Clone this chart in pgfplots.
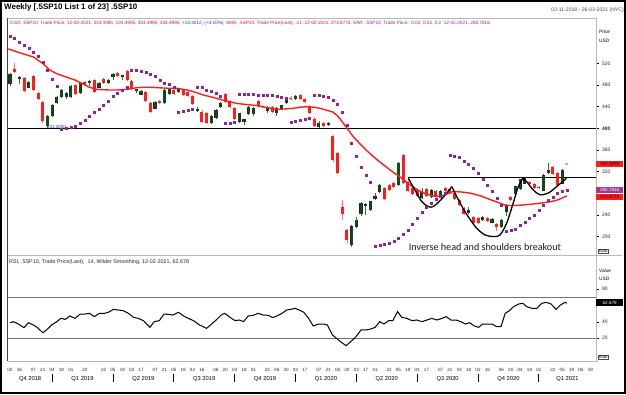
\documentclass[border=0pt]{standalone}
\usepackage{pgfplots}
\pgfplotsset{compat=1.18}
\usepackage{pgfplotstable}
\usepackage{fontspec}
\setmainfont{Liberation Sans}
\newfontfamily\calibri{Carlito}

\definecolor{cRed}{RGB}{255,28,28}
\definecolor{cRedWick}{RGB}{255,110,110}
\definecolor{cGreen}{RGB}{10,80,20}
\definecolor{cGreenWick}{RGB}{70,100,70}
\definecolor{cSar}{RGB}{140,38,140}
\definecolor{cFrame}{RGB}{185,185,185}
\definecolor{cBlue}{RGB}{40,40,230}
\definecolor{cLeg}{RGB}{220,20,40}
\definecolor{cPink}{RGB}{255,140,150}
\definecolor{cPurpleBox}{RGB}{158,58,142}

\pgfplotstableread{
w o h l c
0 482 503 479 500
2 492 496 482 494
4 476 488 474 486
8 405 425 401.4 423
9 423 445 421 443
10 447 460 445 458
11 458 473 456 471
12 458 467 455 465
13 458 480 456 478
15 465 486 463 484
17 484 490 478 488
19 476 486 474 484
21 484 491 482 489
22 495 503 490 500
24 496 499 490 497
27 470 473 466 472
28 463 471 461 469
31 437 451 435 449
33 447 472 445 470
34 464 475 462 472
36 467 474 465 472
40 433 440 430 436
43 410 424 408 422
44 419 435 417 433
45 440 449 438 447
49 412 429 410 427
50 412 418 406 416
51 427 441 425 439
52 427 439 422 437
55 433 441 428 439
57 428 439 423 437
58 437 444 435 442
59 447 454 445 452
61 454 461 452 459
66 403 414 401 409
68 406 411 404 409
73 185 221 181 218
74 218 235 215 230
75 241 263 238 261
76 257 262 240 258
77 249 266 247 264
78 270 280 268 274
79 283 297 281 295
83 295 338 293 336
88 272 290 270 283
90 273 288 271 286
92 275 286 273 284
98 243 255 241 249
101 230 237 228 235
103 226 234 224 232
105 218 232 216 230
106 246 260 238 258
108 278 294 276 292
109 288 307 286 305
110 298 309 296 307
114 285 315 283 313
115 318 336 316 323
118 298 324 296 322
}\upcandles

\pgfplotstableread{
w o h l c
1 510 521 502 504
3 493 495 467 469
5 497 499 469 471
6 465 467 452 455
7 449 451 410 413
14 480 482 461 463
16 486 488 478 480
18 489 491 465 467
20 491 493 482 484
23 502 504 495 497
25 506 508 487 489
26 487 489 470 472
29 467 469 448 450
30 446 448 428 430
32 451 453 445 447
35 470 472 462 464
37 470 472 460 462
38 467 469 458 460
39 460 462 443 445
41 431 433 410 412
42 428 430 408 410
46 463 465 447 449
47 451 453 438 440
48 437 439 415 417
53 451 453 440 442
54 442 444 437 439
56 439 441 429 431
60 457 459 452 454
62 462 464 452 454
63 454 456 446 448
64 441 443 427 429
65 418 420 403 405
67 410 412 403 405
69 386 388 338 341
70 354 356 315 318
71 255 267 230 241
72 212 214 187 193
80 289 291 268 270
81 295 297 284 286
82 298 300 290 292
84 350 352 296 298
85 300 302 282 284
86 290 292 276 278
87 285 287 272 274
89 288 290 273 275
91 283 285 270 272
93 289 291 281 283
94 287 289 278 280
95 281 283 268 270
96 268 270 256 258
97 252 254 239 241
99 235 237 223 225
100 233 235 222 224
102 234 236 227 229
104 223 225 210 217
107 272 274 265 267
111 300 302 294 296
112 296 298 288 290
113 292 294 287 289
116 329 331 313 315
117 317 319 293 295
}\downcandles

\pgfplotstableread{
w s
-0.4 547
2 540
5 532
7 520
8.5 508
10 501
12 495
14 489
15.6 482
17 476
18.6 472
21 471
23 471
25 472
27 475
28.4 476
30 476
32 475
34 474
35.7 474
37.8 471
39.5 467
41.2 462
43.5 457
45.5 452
48.5 446
50.5 444
52.8 442
55 438
57 435
59 436
60.5 437
62 439
63.5 440
65 439
66.2 437
67.5 434
69 430
70 423
71 412
72.2 398
73.3 385
74.8 371
76.3 358
78 345
79.7 333
81.5 321
83.3 310
84.5 302
86 292
87.5 284
89 278
90.5 275
91.9 274
93 277
94.7 283
96.5 282
98.3 280
100.5 275
102.6 268
104.5 262
106 257
108 257
109.6 258
112 260
113.9 262
115.5 264
116.9 267
118 271
119 274.8775
}\smatab

\pgfplotstableread{
w s
0 571
1 566
2 560
3 554
4 548
5 541
6 533
7 522
8 508
9 490
10 478
11 398
12 400
13 402
14 404
15 409
16 415
17 423
18 429
19 436
20 443
21 451
22 459
23 465
24 471
25 477
26 507
27 507
28 505
29 504
30 501
31 496
32 489
33 484
34 481
35 477
36 430
37 431
38 433
39 435
40 477
41 476
42 471
43 468
44 465
45 460
46 409
47 410
48 412
49 463
50 463
51 463
52 463
53 462
54 462
55 462
56 461
57 460
58 458
59 455
60 412
61 413.5
62 415
63 417
64 419
65 462
66 461
67 459
68 457
69 452
70 444
71 430
72 405
73 372
74 348
75 328
76 313
77 300
78 181
79 183
80 185
81 188
82 191
83 196
84 203
85 212
86 222
87 233
88 244
89 254
90 262
91 269
92 275
93 279
94 350.5
95 349
96 346
97 340
98 334
99 326
100 316.6
101 305.5
102 295
103 283
104 270
105 258
106 209
107 212
108 214
109 221
110 227
111 233
112 240
113 249
114 258
115 266
116 273
117 279
118 283
119 285.7816
}\sartab

\pgfplotstableread{
w r
0 38.8
0.7 40.1
1.8 37.2
3 32.7
3.9 38.8
5 36
5.8 33.1
7 26.6
7.8 29.9
8.9 36
10 40.1
10.9 44.1
11.8 42.9
12.8 47
13.9 44.1
15 49.4
16 49.4
17 50.2
18 46.2
19.1 50.2
20.1 50.2
21 51.5
22.1 55.1
23.2 54.3
24.2 53.5
25.3 50.2
26.4 45.4
27.4 44.1
28.5 41.3
29.9 33.1
30.8 40.1
31.9 41.3
32.9 49.4
33.8 49
34.8 48.2
36 51.5
37.1 47
38.1 44.1
39.2 41.3
40.5 36
42 31.9
43.1 37.2
44.2 42.9
45.2 48.6
45.9 50.2
47 45.4
48.1 41.3
49 42.1
49.9 40.1
50.9 47
52 47.8
53 50.2
54.1 48.2
55.2 47.8
56.1 45
57 47
58.1 50.2
59.1 54.3
60 55.1
60.9 56.4
61.8 54.3
62.8 51.5
63.8 44.1
64.8 34.8
65.9 37.2
67 37.2
67.8 36
68.9 23.8
70 18.5
70.9 14.4
71.8 10.7
72.8 15.6
73.8 20.9
75 29.9
76.1 29.9
77.1 31.1
78 33.1
79 40.1
79.9 37.2
80.9 41.3
81.8 41.3
82.8 52.3
83.7 45.4
84.8 44.1
85.9 41.3
86.9 42.1
88 40.1
89.1 42.1
90.1 44.1
91.2 42.1
92.3 44.1
93.2 46.2
94.2 42.1
95.3 42.1
96.3 40.1
97.3 37.2
98.2 38.8
99.2 34.8
100.1 33.1
101 37.2
102 37.2
103 37.2
104 33.9
104.9 33.9
105.8 50.2
106.7 53.5
107.6 58.4
108.7 61.7
109.6 62.5
110.4 58.4
111.5 56.4
112.6 56.4
113.6 62.5
114.6 63.7
115.6 61.7
116.7 55.1
117.6 60.4
118.6 63.7
119 62.678
}\rsitab

\begin{document}
\begin{tikzpicture}[x=1bp,y=1bp]

% ---------------- price panel ----------------
\begin{axis}[
  at={(8bp,139bp)}, anchor=south west,
  scale only axis, width=588bp, height=237bp,
  xmin=-0.427, xmax=125.21, ymin=165.37, ymax=604.26,
  axis x line=none, axis y line*=right,
  axis line style={draw=cFrame, -},
  ytick={200,240,320,360,400,440,480,520},
  yticklabels={200,240,320,360,\textbf{400},440,480,520},
  tick align=outside, major tick length=2.5bp,
  ytick style={black, line width=0.4bp},
  yticklabel style={font=\fontsize{5}{6}\selectfont, text=black!85},
  clip=false,
]
% horizontal levels
\addplot[black, line width=1.5bp, forget plot] coordinates {(-0.427,400) (125.21,400)};
\addplot[black, line width=1.5bp, forget plot] coordinates {(85.1,308.5) (125.21,308.5)};

% wicks
\addplot[draw=none, mark=none, forget plot, error bars/.cd, y dir=both, y explicit, error mark=none,
  error bar style={draw=cGreenWick, line width=0.6bp}]
  table[x=w, y=l, y error plus expr=\thisrow{h}-\thisrow{l}, y error minus expr=0] {\upcandles};
\addplot[draw=none, mark=none, forget plot, error bars/.cd, y dir=both, y explicit, error mark=none,
  error bar style={draw=cRedWick, line width=0.6bp}]
  table[x=w, y=l, y error plus expr=\thisrow{h}-\thisrow{l}, y error minus expr=0] {\downcandles};
% bodies
\addplot[draw=none, mark=none, forget plot, error bars/.cd, y dir=both, y explicit, error mark=none,
  error bar style={draw=black!85, line width=3.2bp}]
  table[x=w, y expr=(\thisrow{o}+\thisrow{c})/2, y error expr={max(abs(\thisrow{c}-\thisrow{o})/2,0.9)+0.5}] {\upcandles};
\addplot[draw=none, mark=none, forget plot, error bars/.cd, y dir=both, y explicit, error mark=none,
  error bar style={draw=cGreen, line width=2.2bp}]
  table[x=w, y expr=(\thisrow{o}+\thisrow{c})/2, y error expr={max(abs(\thisrow{c}-\thisrow{o})/2,0.9)}] {\upcandles};
\addplot[draw=none, mark=none, forget plot, error bars/.cd, y dir=both, y explicit, error mark=none,
  error bar style={draw=cRed, line width=3bp}]
  table[x=w, y expr=(\thisrow{o}+\thisrow{c})/2, y error expr={max(abs(\thisrow{c}-\thisrow{o})/2,0.9)}] {\downcandles};
\addplot[draw=none, mark=none, forget plot, error bars/.cd, y dir=both, y explicit, error mark=none,
  error bar style={draw=cPink, line width=3bp}]
  coordinates {(119,334.4995) +- (0,0.9)};

% SMA 21
\addplot[cRed, line width=1.4bp, forget plot] table[x=w, y=s] {\smatab};
% Parabolic SAR
\addplot[only marks, mark=square*, mark size=1bp, cSar, forget plot] table[x=w, y=s] {\sartab};

% inverse head and shoulders sketch
\addplot[black, line width=1.3bp, smooth, tension=0.5, forget plot] coordinates {
 (85.1,307.4) (86.5,286) (88,264) (89.4,255) (90.4,255) (91.9,266) (93.3,280) (94.4,292)};
\addplot[black, line width=1.3bp, smooth, tension=0.5, forget plot] coordinates {
 (94.4,292) (96.2,261) (97.9,236.5) (99.7,215) (101.5,202.5) (103.3,199.5) (104.7,202.5) (106.1,224) (107.5,261) (108.6,292) (109.6,307.4)};
\addplot[black, line width=1.3bp, smooth, tension=0.5, forget plot] coordinates {
 (109.6,307.4) (110.4,301) (111.8,286) (113.2,277) (115,280) (116.8,292) (118.9,307.4)};
\end{axis}

% ---------------- RSI panel ----------------
\begin{axis}[
  at={(8bp,33bp)}, anchor=south west,
  scale only axis, width=588bp, height=106bp,
  xmin=-0.427, xmax=125.21, ymin=-8.02, ymax=121.56,
  axis x line*=bottom, axis y line*=right,
  axis line style={draw=cFrame, -},
  ytick={20,40,80},
  tick align=outside, major tick length=2.5bp,
  ytick style={black, line width=0.4bp},
  yticklabel style={font=\fontsize{5}{6}\selectfont, text=black!85},
  /pgf/number format/assume math mode=true,
  xtick={0,2,5,7,9,11,13,16,20,22,24,26,28,31,33,35,37,39,41,44,46,48,50,52,55,57,59,61,63,66,68,70,72,74,76,78,81,83,85,87,89,92,94,96,98,100,102,105,107,109,111,113,116,118,120,122,124},
  xticklabels={02,16,07,21,04,18,01,22,22,05,19,03,17,07,21,05,19,02,16,06,20,04,18,01,22,06,20,03,17,07,21,06,20,03,17,01,22,05,19,03,17,07,21,04,18,02,16,06,20,04,18,01,22,05,19,05,19},
  xtick style={draw=none},
  xticklabel style={font=\fontsize{4.6}{5}\selectfont, anchor=center, yshift=-6bp, text=black!85},
  extra x ticks={4.3,15.5,28.5,41.5,54.5,67.5,80.5,93.5,106.5,119.1},
  extra x tick labels={Q4 2018,Q1 2019,Q2 2019,Q3 2019,Q4 2019,Q1 2020,Q2 2020,Q3 2020,Q4 2020,Q1 2021},
  extra x tick style={xtick style={draw=none}, xticklabel style={font=\fontsize{5.8}{7}\selectfont, yshift=-10bp, text=black}},
  clip=false,
]
\addplot[black!55, line width=0.8bp, forget plot] coordinates {(-0.427,70) (125.21,70)};
\addplot[black!55, line width=0.8bp, forget plot] coordinates {(-0.427,20) (125.21,20)};
\addplot[black, line width=1bp, forget plot] table[x=w, y=r] {\rsitab};
\end{axis}

% ---------------- frames ----------------
\draw[cFrame, line width=0.6bp] (8,376) -- (596,376);
\draw[cFrame, line width=0.6bp] (596,376) -- (596,33);
\draw[cFrame, line width=0.6bp] (8,139) -- (622,139);
\draw[cFrame, line width=0.6bp] (8,33) -- (598,33);
\draw[black!75, line width=1.5bp] (7.6,376) -- (7.6,33);
\foreach \w in {9,22,35,48,61,74,87,100,113}
  \draw[black, line width=0.7bp] ({10+4.68*\w},20.5) -- ++(0,-8);
\draw[black, line width=1.6bp] (0.8,0.8) rectangle (625.2,393.2);

% ---------------- texts ----------------
\node[anchor=west, inner sep=0, font=\fontsize{8}{9}\selectfont\bfseries] at (4,387) {Weekly [.5SP10 List 1 of 23] .5SP10};
\node[anchor=east, inner sep=0, font=\fontsize{5.15}{6}\selectfont, text=black!70] at (624,384) {02-11-2018 - 26-03-2021 (NYC)};
\node[anchor=west, inner sep=0, font=\fontsize{4.7}{5.5}\selectfont] at (10,371)
 {\textcolor{cLeg}{Cndl, .5SP10, Trade Price, 12-02-2021, 334.4995, 334.4995, 334.4995, 334.4995,} \textcolor{cBlue}{+13.4012, (+4.10\%),} \textcolor{cLeg}{SMA, .5SP10, Trade Price(Last),\ \ 21, 12-02-2021, 274.8775,} \textcolor{cSar}{SAR, .5SP10, Trade Price,\ \ 0.02, 0.02, 0.2, 12-02-2021, 285.7816}};
\node[anchor=west, inner sep=0, font=\fontsize{4.8}{5}\selectfont] at (599,362.3) {Price};
\node[anchor=west, inner sep=0, font=\fontsize{4.8}{5}\selectfont] at (599,353) {USD};
\node[anchor=west, inner sep=0, font=\fontsize{4.8}{5}\selectfont] at (599,123.3) {Value};
\node[anchor=west, inner sep=0, font=\fontsize{4.8}{5}\selectfont] at (599,115) {USD};
\node[anchor=west, inner sep=0, font=\fontsize{5.4}{6}\selectfont, text=black!85] at (9,132) {RSI, .5SP10, Trade Price(Last),\ \ 14, Wilder Smoothing, 12-02-2021, 62.678};
\node[anchor=west, inner sep=0, font=\fontsize{4.5}{5}\selectfont, text=cBlue] at (47,267) {401.4000};
\node[inner sep=0, font=\calibri\fontsize{10.2}{11}\selectfont, text=black!90] at (485,147.3) {Inverse head and shoulders breakout};

% value boxes
\node[anchor=west, fill=cRed, inner sep=0, minimum width=27bp, minimum height=6.4bp, font=\fontsize{4.6}{5}\selectfont, text=black!80!red] at (596,230.3) {334.4995};
\node[anchor=west, fill=cPurpleBox, inner sep=0, minimum width=27bp, minimum height=6.6bp, font=\fontsize{4.6}{5}\selectfont, text=white] at (596,204) {285.7816};
\node[anchor=west, fill=cRed, inner sep=0, minimum width=27bp, minimum height=6.6bp, font=\fontsize{4.6}{5}\selectfont, text=black!80!red] at (596,196.9) {274.8775};
\node[anchor=west, fill=black, inner sep=0, minimum width=27bp, minimum height=6.4bp, font=\fontsize{4.6}{5}\selectfont, text=white] at (596,91.5) {62.678};
% auto boxes
\node[anchor=south west, draw=black!70, line width=0.4bp, inner sep=0.6bp, font=\fontsize{4.3}{5}\selectfont] at (598,140.5) {Auto};
\node[anchor=south west, draw=black!70, line width=0.4bp, inner sep=0.6bp, font=\fontsize{4.3}{5}\selectfont] at (598,34.5) {Auto};

\useasboundingbox (0,0) rectangle (626,394);
\end{tikzpicture}
\end{document}
